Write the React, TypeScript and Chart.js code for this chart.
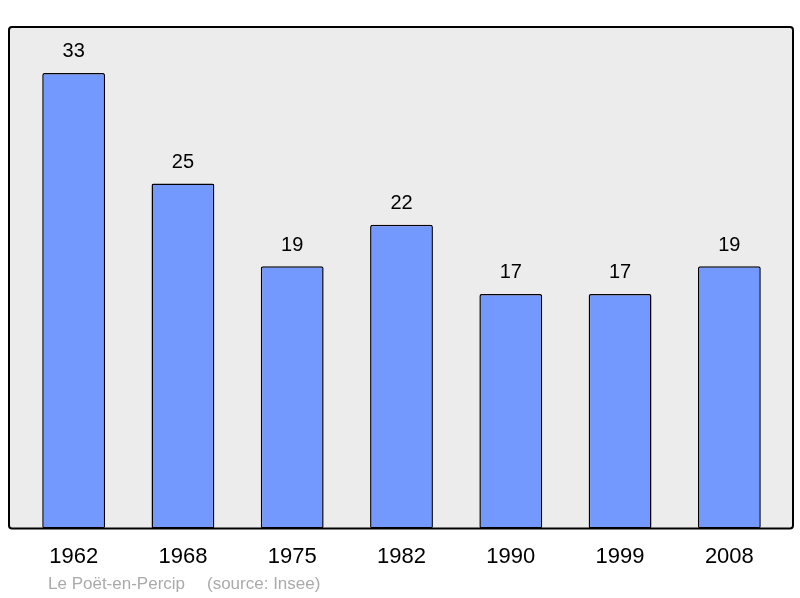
import React, { useEffect, useRef } from "react";
import { Chart, registerables } from "chart.js";

Chart.register(...registerables);

const years = ["1962", "1968", "1975", "1982", "1990", "1999", "2008"];
const population = [33, 25, 19, 22, 17, 17, 19];
const placeName = "Le Poët-en-Percip";
const sourceNote = "(source: Insee)";

const FONT = "'Liberation Sans', Arial, sans-serif";

const framePlugin = {
  id: "frame",
  beforeDraw(chart: any) {
    const { ctx, chartArea } = chart;
    const l = chartArea.left - 10;
    const r = chartArea.right + 9;
    const t = chartArea.top;
    const b = chartArea.bottom;
    ctx.save();
    ctx.beginPath();
    (ctx as any).roundRect(l, t, r - l, b - t, 3);
    ctx.fillStyle = "#ececec";
    ctx.fill();
    ctx.restore();
  },
  afterDatasetsDraw(chart: any) {
    const { ctx, chartArea } = chart;
    const l = chartArea.left - 10;
    const r = chartArea.right + 9;
    const t = chartArea.top;
    const b = chartArea.bottom;
    ctx.save();
    ctx.beginPath();
    (ctx as any).roundRect(l, t, r - l, b - t, 3);
    ctx.lineWidth = 2;
    ctx.strokeStyle = "#000";
    ctx.stroke();
    // value labels
    const meta = chart.getDatasetMeta(0);
    ctx.fillStyle = "#000";
    ctx.font = `20px ${FONT}`;
    ctx.textAlign = "center";
    ctx.textBaseline = "middle";
    meta.data.forEach((bar: any, i: number) => {
      ctx.fillText(String(chart.data.datasets[0].data[i]), bar.x, bar.y - 21);
    });
    // source
    ctx.fillStyle = "#aaaaaa";
    ctx.font = `17px ${FONT}`;
    ctx.textAlign = "left";
    ctx.fillText(placeName, 48, 584);
    ctx.fillText(sourceNote, 207, 584);
    ctx.restore();
  },
};

export default function App() {
  const ref = useRef<HTMLCanvasElement>(null);
  useEffect(() => {
    document.body.style.margin = "0";
    const chart = new Chart(ref.current!, {
      type: "bar",
      data: {
        labels: years,
        datasets: [
          {
            data: population,
            backgroundColor: "#7399ff",
            borderColor: "#000",
            borderWidth: 1.5,
            borderRadius: 2,
            borderSkipped: false,
            barPercentage: 0.575,
            categoryPercentage: 1,
          },
        ],
      },
      options: {
        animation: false,
        responsive: false,
        maintainAspectRatio: false,
        layout: { padding: { left: 19, right: 16, top: 27, bottom: 13 } },
        plugins: { legend: { display: false }, tooltip: { enabled: false } },
        scales: {
          x: {
            grid: { display: false, drawTicks: false },
            border: { display: false },
            ticks: { color: "#000", font: { size: 22, family: FONT }, padding: 15 },
          },
          y: { display: false, min: 0, max: 36.33 },
        },
      },
      plugins: [framePlugin],
    });
    return () => chart.destroy();
  }, []);
  return (
    <div style={{ width: 800, height: 598 }}>
      <canvas ref={ref} width={800} height={598} style={{ width: 800, height: 598, display: "block" }} />
    </div>
  );
}
